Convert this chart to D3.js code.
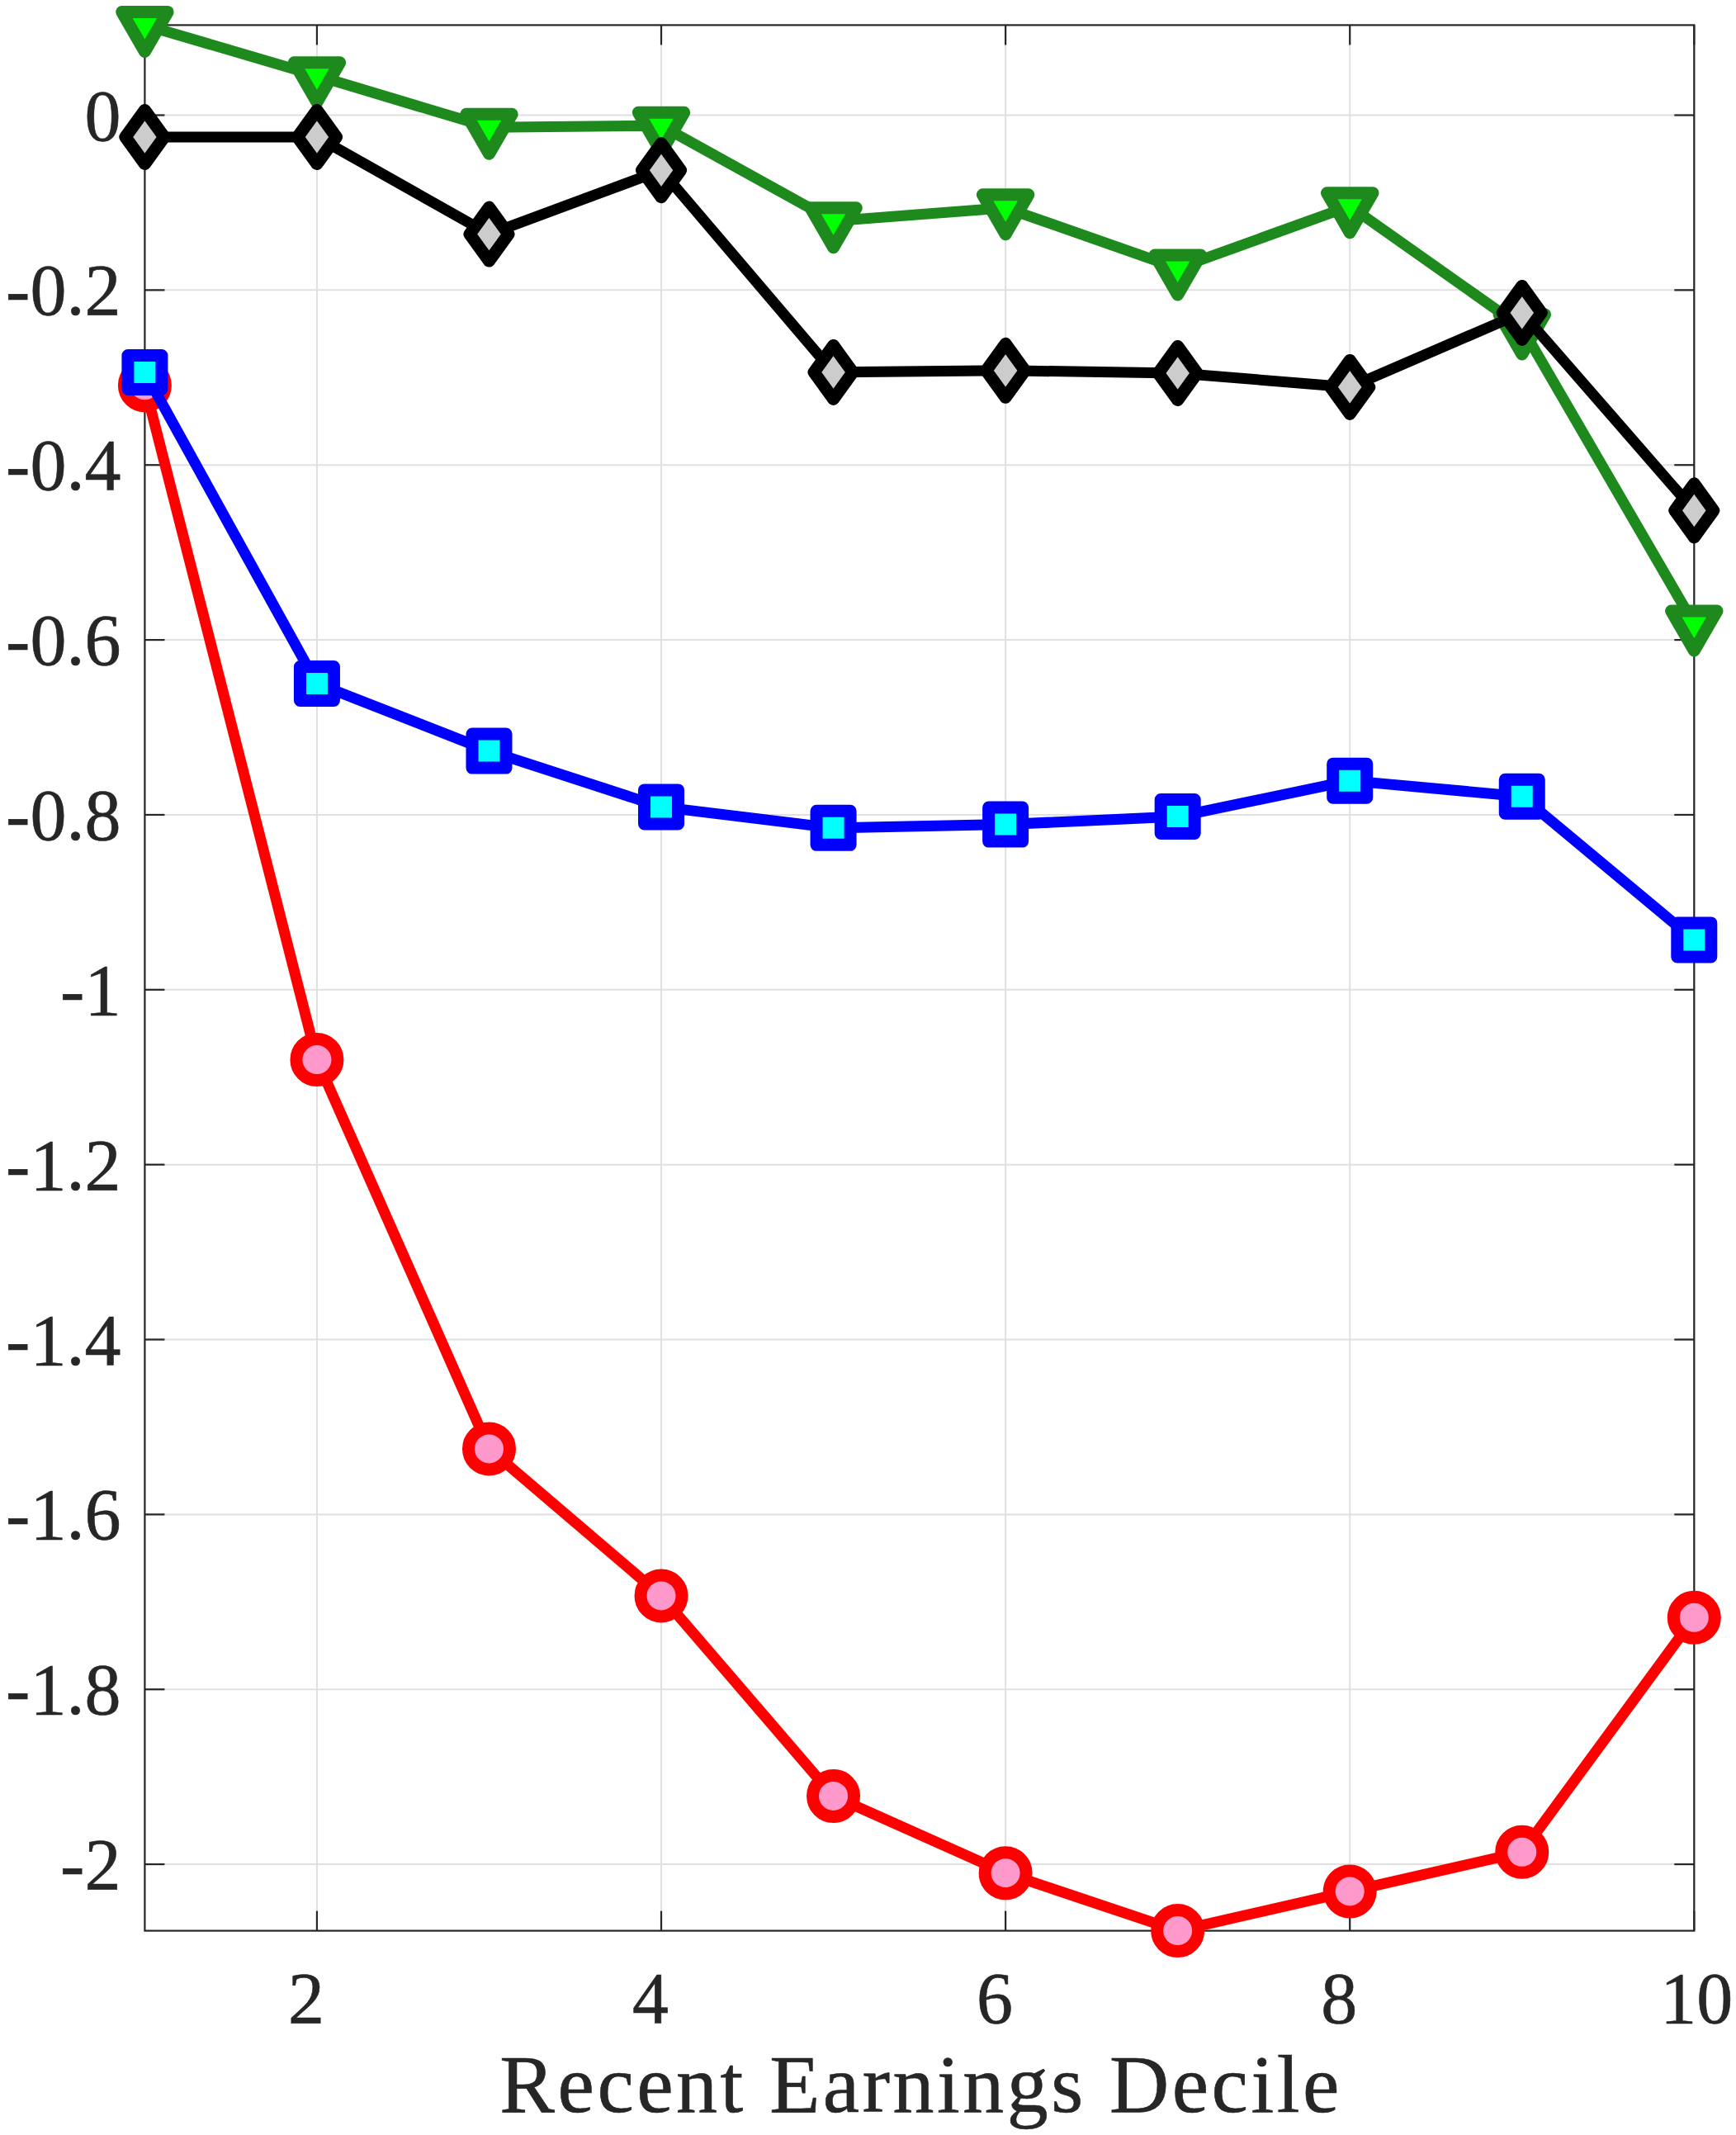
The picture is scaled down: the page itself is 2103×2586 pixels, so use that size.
<!DOCTYPE html>
<html>
<head>
<meta charset="utf-8">
<script src="https://cdn.jsdelivr.net/npm/d3@7"></script>
<style>
  body { margin: 0; background: #fff; }
  svg { display: block; }
</style>
</head>
<body>
<script>
// values
var deciles = [1, 2, 3, 4, 5, 6, 7, 8, 9, 10];
var redValues   = [-0.309, -1.080, -1.525, -1.693, -1.922, -2.010, -2.076, -2.031, -1.986, -1.718];
var blueValues  = [-0.294, -0.650, -0.727, -0.791, -0.815, -0.811, -0.802, -0.761, -0.779, -0.943];
var greenValues = [0.103, 0.045, -0.014, -0.012, -0.121, -0.106, -0.175, -0.104, -0.243, -0.582];
var blackValues = [-0.025, -0.025, -0.136, -0.063, -0.294, -0.292, -0.295, -0.311, -0.226, -0.452];
var xTicks = [2, 4, 6, 8, 10];
var yTicks = [0, -0.2, -0.4, -0.6, -0.8, -1, -1.2, -1.4, -1.6, -1.8, -2];
var xLabel = "Recent Earnings Decile";

var W = 2103, H = 2586;
var margin = {left: 175.4, right: W - 2052.3, top: 30.4, bottom: H - 2338.6};
var axisColor = "#262626";
var font = "'Liberation Serif'";

var svg = d3.select("body").append("svg")
  .attr("width", W).attr("height", H);

var x = d3.scaleLinear()
  .domain(d3.extent(deciles))
  .range([margin.left, W - margin.right]);

// axis tight: limits come from the data
var allVals = redValues.concat(blueValues, greenValues, blackValues);
var y = d3.scaleLinear()
  .domain([d3.min(allVals), d3.max(allVals)])
  .range([H - margin.bottom, margin.top]);

var x0 = x.range()[0], x1 = x.range()[1];
var y0 = y.range()[0], y1 = y.range()[1];

// grid
var grid = svg.append("g").attr("stroke", "#e0e0e0").attr("stroke-width", 2);
grid.selectAll(".gx").data(xTicks).enter().append("line")
  .attr("x1", function(d) { return x(d); }).attr("x2", function(d) { return x(d); })
  .attr("y1", y0).attr("y2", y1);
grid.selectAll(".gy").data(yTicks).enter().append("line")
  .attr("x1", x0).attr("x2", x1)
  .attr("y1", function(d) { return y(d); }).attr("y2", function(d) { return y(d); });

// box and inner ticks
var tickLen = 24;
var ax = svg.append("g").attr("stroke", axisColor).attr("stroke-width", 2.2).attr("fill", "none");
ax.append("rect").attr("x", x0).attr("y", y1).attr("width", x1 - x0).attr("height", y0 - y1);
xTicks.forEach(function(t) {
  ax.append("line").attr("x1", x(t)).attr("x2", x(t)).attr("y1", y0).attr("y2", y0 - tickLen);
  ax.append("line").attr("x1", x(t)).attr("x2", x(t)).attr("y1", y1).attr("y2", y1 + tickLen);
});
yTicks.forEach(function(t) {
  ax.append("line").attr("x1", x0).attr("x2", x0 + tickLen).attr("y1", y(t)).attr("y2", y(t));
  ax.append("line").attr("x1", x1).attr("x2", x1 - tickLen).attr("y1", y(t)).attr("y2", y(t));
});

// tick labels
function fmt(v) { return String(+v.toFixed(1)); }
svg.append("g").selectAll("text").data(yTicks).enter().append("text")
  .attr("x", x0 - 29)
  .attr("y", function(d) { return y(d) + 30; })
  .attr("text-anchor", "end")
  .attr("font-family", font).attr("font-size", 88).attr("fill", axisColor)
  .attr("stroke", axisColor).attr("stroke-width", 0.6)
  .text(fmt);

svg.append("g").selectAll("text").data(xTicks).enter().append("text")
  .attr("x", function(d) { return x(d) + (String(d).length === 1 ? -13 : 3); })
  .attr("y", y0 + 111)
  .attr("text-anchor", "middle")
  .attr("font-family", font).attr("font-size", 88).attr("fill", axisColor)
  .attr("stroke", axisColor).attr("stroke-width", 0.6)
  .text(function(d) { return d; });

svg.append("text")
  .attr("x", (x0 + x1) / 2).attr("y", 2558)
  .attr("text-anchor", "middle")
  .attr("font-family", font).attr("font-size", 100).attr("fill", axisColor)
  .attr("stroke", axisColor).attr("stroke-width", 0.6)
  .attr("textLength", 1017).attr("lengthAdjust", "spacing")
  .text(xLabel);

// marker shapes
function circlePath(r) { return d3.symbol().type(d3.symbolCircle).size(Math.PI * r * r)(); }
function squarePath(h) { return d3.symbol().type(d3.symbolSquare).size(4 * h * h)(); }
function trianglePath(R) {
  // d3 triangle: circumradius R = 2*sqrt(size/(3*sqrt3)), centroid at origin
  var s = (R / 2) * (R / 2) * 3 * Math.sqrt(3);
  return d3.symbol().type(d3.symbolTriangle).size(s)();
}
function diamondPath(hw, hh) {
  return "M0," + (-hh) + "L" + hw + ",0L0," + hh + "L" + (-hw) + ",0Z";
}

var series = [
  {values: redValues,   line: "#ff0000", fill: "#ff99cc", marker: circlePath(25), rot: 0},
  {values: blueValues,  line: "#0000ff", fill: "#00ffff", marker: squarePath(20.5), rot: 0},
  {values: greenValues, line: "#1e8a1e", fill: "#00ff00", marker: trianglePath(32), rot: 180},
  {values: blackValues, line: "#000000", fill: "#cccccc", marker: diamondPath(23.5, 32.5), rot: 0}
];

var line = d3.line()
  .x(function(d, i) { return x(deciles[i]); })
  .y(function(d) { return y(d); });

series.forEach(function(s) {
  var g = svg.append("g");
  g.append("path")
    .attr("d", line(s.values))
    .attr("fill", "none")
    .attr("stroke", s.line)
    .attr("stroke-width", 13)
    .attr("stroke-linejoin", "round");
  g.selectAll(".m").data(s.values).enter().append("path")
    .attr("d", s.marker)
    .attr("transform", function(d, i) {
      return "translate(" + x(deciles[i]) + "," + y(d) + ") rotate(" + s.rot + ")";
    })
    .attr("fill", s.fill)
    .attr("stroke", s.line)
    .attr("stroke-width", 15)
    .attr("stroke-linejoin", "round");
});
</script>
</body>
</html>
